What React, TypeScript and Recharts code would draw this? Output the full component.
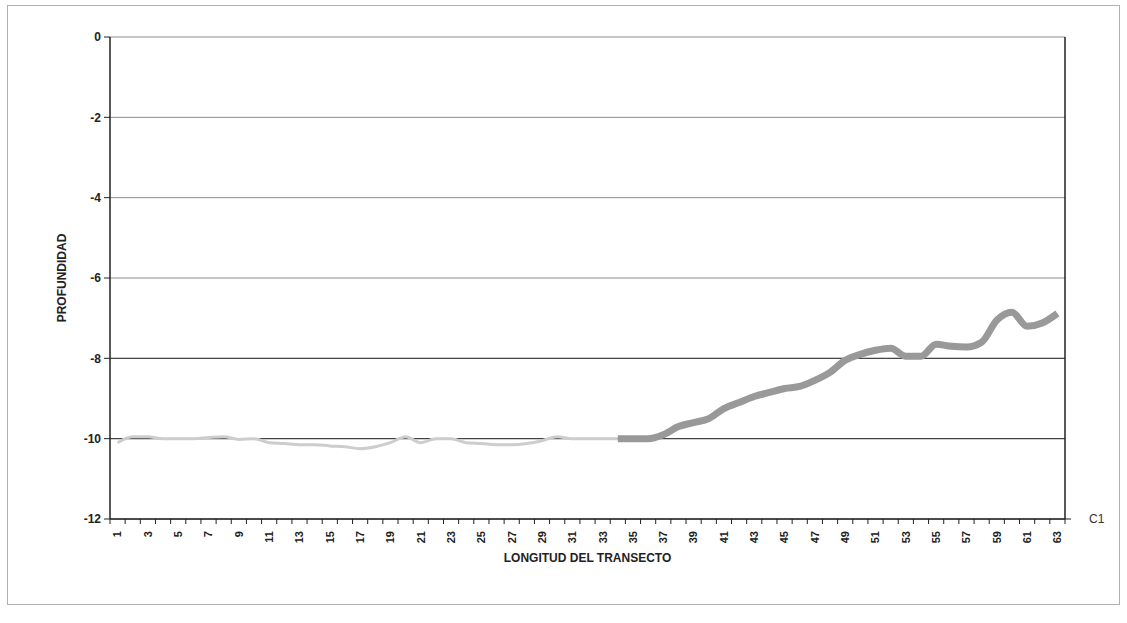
import { LineChart, Line, XAxis, YAxis, CartesianGrid, ReferenceLine, Label } from 'recharts'

// transect position (1..63)
const positions = [
  1, 2, 3, 4, 5, 6, 7, 8, 9, 10, 11, 12, 13, 14, 15, 16, 17, 18, 19, 20, 21,
  22, 23, 24, 25, 26, 27, 28, 29, 30, 31, 32, 33, 34, 35, 36, 37, 38, 39, 40, 41, 42,
  43, 44, 45, 46, 47, 48, 49, 50, 51, 52, 53, 54, 55, 56, 57, 58, 59, 60, 61, 62, 63,
]

// depth
const depth = [
  -10.1, -9.95, -9.95, -10, -10, -10, -9.97, -9.95, -10.02, -10, -10.1, -10.12, -10.15,
  -10.15, -10.18, -10.2, -10.25, -10.2, -10.1, -9.95, -10.1, -10, -10, -10.1, -10.12,
  -10.15, -10.15, -10.12, -10.05, -9.95, -10, -10, -10, -10, -10, -10, -9.9, -9.7, -9.6,
  -9.5, -9.25, -9.1, -8.95, -8.85, -8.75, -8.7, -8.55, -8.35, -8.05, -7.9, -7.8, -7.75,
  -7.95, -7.95, -7.65, -7.7, -7.72, -7.6, -7.05, -6.85, -7.2, -7.12, -6.88,
]

const yTicks = [0, -2, -4, -6, -8, -10, -12]

// first 34 points come out faded in the scan, the rest is the thick ribbon
const chartData = positions.map((p, i) => ({
  x: p,
  flat: i <= 33 ? depth[i] : null,
  slope: i >= 33 ? depth[i] : null,
}))

const font = '"Liberation Sans", Arial, sans-serif'
const HALF = 955 / 63 / 2 // half a category band, for the edge tick marks
const LAST = positions.length - 1

const BottomTick = ({ x, y, payload, index }: any) => (
  <g>
    <line x1={x - HALF} x2={x - HALF} y1={y} y2={y + 5} stroke="#222" />
    {index === LAST && <line x1={x + HALF} x2={x + HALF} y1={y} y2={y + 5} stroke="#222" />}
    {index % 2 === 0 && (
      <text
        x={x}
        y={y + 12}
        dy="0.35em"
        transform={`rotate(-90 ${x} ${y + 12})`}
        textAnchor="end"
        fontFamily={font}
        fontWeight="bold"
        fontSize={11}
        fill="#222"
      >
        {payload.value}
      </text>
    )}
  </g>
)

const TopTick = ({ x, y, index }: any) => (
  <g>
    <line x1={x - HALF} x2={x - HALF} y1={y} y2={y + 5} stroke="#222" />
    {index === LAST && <line x1={x + HALF} x2={x + HALF} y1={y} y2={y + 5} stroke="#222" />}
  </g>
)

const App = () => {
  return (
    <div style={{ position: 'absolute', left: 7, top: 5, width: 1111, height: 598, border: '1px solid #b0b0b0', fontFamily: font }}>
      <LineChart width={1111} height={598} data={chartData} margin={{ top: 31, right: 0, left: 0, bottom: 25 }}>
        <CartesianGrid vertical={false} stroke="#8c8c8c" />
        <ReferenceLine y={-8} stroke="#333" />
        <ReferenceLine y={-10} stroke="#333" />
        <XAxis
          dataKey="x"
          interval={0}
          padding={{ left: HALF, right: HALF }}
          tickLine={false}
          tickSize={0}
          tickMargin={0}
          axisLine={{ stroke: '#222', strokeWidth: 1.5 }}
          tick={<BottomTick />}
          height={60}
        >
          <Label
            value="LONGITUD DEL TRANSECTO"
            position="insideBottom"
            offset={17}
            style={{ fontFamily: font, fontWeight: 'bold', fontSize: 12, fill: '#222' }}
          />
        </XAxis>
        <XAxis
          xAxisId="top"
          dataKey="x"
          orientation="top"
          interval={0}
          padding={{ left: HALF, right: HALF }}
          mirror
          tickLine={false}
          tickSize={0}
          tickMargin={0}
          tick={<TopTick />}
          axisLine={{ stroke: '#222', strokeWidth: 1.5 }}
          height={0}
        />
        <YAxis
          domain={[-12, 0]}
          ticks={yTicks}
          interval={0}
          width={102}
          tickSize={6}
          tickMargin={3}
          axisLine={{ stroke: '#222', strokeWidth: 1.5 }}
          tickLine={{ stroke: '#222' }}
          tick={{ fontFamily: font, fontWeight: 'bold', fontSize: 12, fill: '#222' }}
        >
          <Label
            value="PROFUNDIDAD"
            angle={-90}
            position="center"
            dx={3}
            style={{ fontFamily: font, fontWeight: 'bold', fontSize: 12, fill: '#222', textAnchor: 'middle' }}
          />
        </YAxis>
        <YAxis
          yAxisId="right"
          orientation="right"
          domain={[-12, 0]}
          ticks={[-12]}
          interval={0}
          tickFormatter={() => 'C1'}
          width={54}
          tickSize={6}
          tickMargin={18}
          axisLine={{ stroke: '#222', strokeWidth: 1.5 }}
          tickLine={{ stroke: '#222' }}
          tick={{ fontFamily: font, fontSize: 12, fill: '#333' }}
        />
        <Line
          type="monotone"
          dataKey="flat"
          xAxisId="top"
          yAxisId="right"
          stroke="#cdcdcd"
          strokeWidth={3}
          dot={false}
          isAnimationActive={false}
        />
        <Line
          type="monotone"
          dataKey="slope"
          stroke="#999999"
          strokeWidth={7}
          dot={false}
          isAnimationActive={false}
        />
      </LineChart>
    </div>
  )
}

export default App
